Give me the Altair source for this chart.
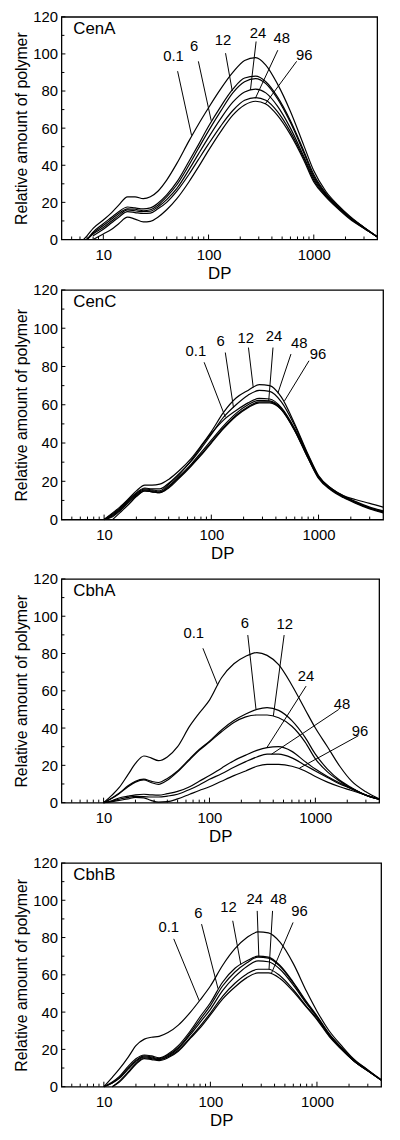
import altair as alt
import pandas as pd

FONT = "Liberation Sans"

# Degree of polymerisation grid shared by all curves
DP = [6.5, 7, 8, 10, 12, 14, 17, 20, 24, 28, 33, 40, 50, 65, 80, 100, 130, 170,
      220, 280, 350, 450, 600, 800, 1000, 1300, 1700, 2200, 3000, 4000]
TIMES = ["0.1", "6", "12", "24", "48", "96"]
PANELS = ["CenA", "CenC", "CbhA", "CbhB"]

# ---- CenA ----
CENA_0_1 = [0, 2, 6, 10.5, 14.5, 18.5, 23, 23, 22, 23, 26, 32, 41, 53, 62, 71, 81, 90, 96.5, 98, 94, 84, 69, 51, 37, 26, 18.5, 12.5, 6.5, 1.5]
CENA_6 = [None, 0, 4, 8.5, 12, 15, 17.5, 17, 16.5, 17, 19.5, 24, 31, 42, 51, 61, 71.5, 81, 87, 88, 85, 77, 64, 48, 35, 25, 18, 12, 6.5, 1.5]
CENA_12 = [None, 0, 3.5, 7.5, 11, 14, 16.5, 16.3, 15.5, 16, 18.5, 23, 29.5, 40, 49, 58.5, 69, 79, 85, 86.7, 84, 76, 63, 47, 34, 24.5, 17.5, 12, 6.5, 1.5]
CENA_24 = [None, 0, 3, 6.5, 10, 13, 16, 15.5, 15, 15.2, 17.5, 21.5, 27.5, 37.5, 46, 55, 65, 74, 79.5, 81, 79, 72, 60, 45, 33, 24, 17, 11.5, 6, 1.5]
CENA_48 = [None, None, 2, 5.5, 9, 12, 15, 14.5, 14, 14.2, 16.5, 20, 26, 35, 43, 51.5, 61, 69.5, 75, 76.4, 75, 69, 58, 44, 32, 23.5, 17, 11.5, 6, 1.5]
CENA_96 = [None, None, 0, 3, 5.5, 8.5, 12, 11, 9.5, 9.8, 12, 16, 22, 31, 39, 48, 58, 67, 72.5, 74.5, 73, 67, 56.5, 43, 31, 23, 16.5, 11, 6, 1.5]

# ---- CenC ----
CENC_0_1 = [None, None, None, 0, 2.5, 5.5, 10, 13.5, 16, 15.5, 15, 18.5, 23.5, 31, 38, 45, 52, 57, 61, 63.3, 63, 58.5, 47.5, 33, 22.5, 16.5, 12.5, 10.5, 8.5, 6.5]
CENC_6 = [None, None, None, 0, 3, 6, 10.5, 14, 16.5, 16, 16, 19, 24, 30.5, 37, 44.5, 53.5, 60, 65, 67.5, 67, 61.5, 49, 33.5, 22.5, 16, 12, 9, 6, 4]
CENC_12 = [None, None, None, 0, 3.5, 6.5, 11, 15, 18, 18, 18.5, 21, 25.5, 32, 38.5, 46, 56, 63.5, 67.5, 70.5, 70, 64, 50, 34, 23, 16.5, 12.5, 9.5, 6.5, 4.5]
CENC_24 = [None, None, None, 0, 2, 5, 9.5, 13, 15.5, 15, 14.5, 17.5, 22.5, 29, 35, 41.5, 49, 55.5, 60, 62.3, 62, 58, 47, 32.5, 22, 16, 12, 9, 6, 4]
CENC_48 = [None, None, None, 0, 1.5, 4.5, 9, 12.5, 15, 14.5, 14, 17, 22, 28.5, 34, 40.5, 48, 54.5, 59, 61.5, 61.5, 57.5, 46.5, 32, 22, 16, 12, 9, 6, 4]
CENC_96 = [None, None, None, None, 0, 3.5, 8, 12, 15, 14.5, 14, 16.5, 21.5, 28, 33.5, 40, 47.5, 54, 58.5, 61, 61, 57.5, 46.5, 32, 21.5, 15.5, 11.5, 8.5, 5.5, 3.5]

# ---- CbhA ----
CBHA_0_1 = [None, None, None, 0, 4, 8, 15, 21, 25, 24, 22.5, 24.5, 30, 41, 48, 55, 67, 74.5, 78.5, 80.5, 79, 74, 63, 50, 40, 30, 19.5, 11.5, 5.8, 2]
CBHA_6 = [None, None, None, 0, 2.5, 5, 9, 11.5, 12.6, 11.5, 10.8, 13, 17, 23.5, 28.5, 33, 39, 44, 47.5, 50, 51, 49.5, 44, 35, 26, 18, 12, 8, 4, 1.8]
CBHA_12 = [None, None, None, 0, 2.3, 4.8, 8.5, 11, 12.2, 10.8, 9.8, 12, 16.5, 23, 28, 32.5, 38, 43, 46, 47, 47, 45.5, 41, 32.5, 23.5, 16.5, 11.5, 7.5, 4, 1.8]
CBHA_24 = [None, None, None, 0, 1, 2.5, 3.5, 4.2, 4.5, 4.2, 4, 4.8, 6, 8.5, 11.5, 14.5, 18.5, 22.5, 25.5, 28, 29.5, 30, 27.5, 22, 18, 14, 10.5, 7.5, 4, 1.8]
CBHA_48 = [None, None, None, 0, 0.8, 1.8, 2.8, 3.3, 3.2, 3, 3, 3.5, 4.5, 7, 9.5, 12.5, 15.5, 19, 22, 24.5, 26, 26, 24, 20, 17, 13.5, 10, 7.5, 4, 1.8]
CBHA_96 = [None, None, None, 0, 0.5, 1.2, 2, 2.8, 2.5, 1.2, 0.3, 0.5, 2, 4.5, 6.5, 8.5, 11.5, 14.5, 17, 19.5, 20.5, 20.5, 19.5, 17, 14, 11, 8.5, 6.5, 4, 1.8]

# ---- CbhB ----
CBHB_0_1 = [None, None, None, 0, 5, 9.5, 16, 22, 25.5, 26.5, 27, 29, 33, 40, 46.5, 54, 65, 74, 80, 83, 82.5, 77.5, 66, 51, 40.5, 30, 22, 15, 9, 3.8]
CBHB_6 = [None, None, None, 0, 2, 4.5, 9.5, 13.5, 16, 15.5, 14.5, 16.5, 20.5, 28, 34.5, 41.5, 51.5, 59, 64.5, 67.5, 67, 63, 54.5, 44.5, 37.5, 28, 20.5, 14, 8.5, 3.5]
CBHB_12 = [None, None, None, 0, 2.5, 5.5, 11, 15, 17, 16.5, 15.5, 17.5, 22, 30, 37.5, 45, 56, 63.5, 67.5, 70, 69.5, 65, 56, 45.5, 38, 28.5, 21, 14.5, 9, 3.5]
CBHB_24 = [None, None, None, 0, 2, 5, 10, 14, 16.5, 16, 15, 17, 21, 29, 36, 43.5, 54, 61.5, 66.5, 69.5, 69, 64.5, 55.5, 45, 37.5, 28, 20.5, 14, 8.5, 3.5]
CBHB_48 = [None, None, None, None, 0, 3, 8, 12.5, 15.5, 15, 14.5, 16, 19.5, 26.5, 32.5, 39.5, 48.5, 55.5, 60.5, 63, 63, 59.5, 52, 43, 36.5, 27.5, 20, 14, 8.5, 3.5]
CBHB_96 = [None, None, None, None, 0, 2.5, 7.5, 12, 15, 14.5, 14, 15.5, 19, 26, 31.5, 38.5, 47, 53.5, 58.5, 61, 61, 58, 51, 42.5, 36, 27, 20, 14, 8.5, 3.5]

# ---- curve labels (text position) and leader lines ----
CENA_LAB_X = [46.4, 73, 137, 295, 496, 811]
CENA_LAB_Y = [98.7, 104, 107.5, 111, 108.4, 99.6]
CENA_LEAD_X1 = [50.8, 80, 145, 283, 455, 687]
CENA_LEAD_Y1 = [90.7, 96, 100.4, 106.7, 102, 96]
CENA_LEAD_X2 = [69, 106, 168, 250, 278, 345]
CENA_LEAD_Y2 = [56, 64, 80, 80.5, 76, 73]

CENC_LAB_X = [71.8, 122, 209, 384, 661, 986]
CENC_LAB_Y = [88.2, 93.3, 95, 95.9, 92.5, 86.5]
CENC_LEAD_X1 = [85.7, 135, 222, 376, 553, 815]
CENC_LEAD_Y1 = [82.2, 87.3, 89.9, 89.9, 86.5, 83]
CENC_LEAD_X2 = [135, 161, 246, 343, 417, 481]
CENC_LEAD_Y2 = [53.5, 58.5, 69, 62, 66, 62]

CBHA_LAB_X = [71, 216, 514, 817, 1786, 2642]
CBHA_LAB_Y = [90.8, 96.5, 96, 68.1, 52.7, 38.6]
CBHA_LEAD_X1 = [86.7, 230, 507, 817, 1664, 2549]
CBHA_LEAD_Y1 = [82.8, 89.9, 89.9, 62.5, 50, 35.9]
CBHA_LEAD_X2 = [119.5, 275, 401, 348, 386, 708]
CBHA_LEAD_Y2 = [63, 50, 46.5, 29.5, 26, 18.5]

CBHB_LAB_X = [40.7, 77, 148, 261, 435, 687]
CBHB_LAB_Y = [85.5, 93.4, 96.1, 100.5, 100.5, 94.3]
CBHB_LEAD_X1 = [45.3, 82.6, 162, 275, 383, 597]
CBHB_LEAD_Y1 = [79.3, 87.2, 89, 94.3, 94.3, 88.1]
CBHB_LEAD_X2 = [78.7, 118, 193, 285, 355, 375]
CBHB_LEAD_Y2 = [46, 52.5, 65.5, 69.5, 63, 61]

# ---- axes ----
X_LABELS = [10, 100, 1000]
X_MINOR = [5, 6, 7, 8, 9, 20, 30, 40, 50, 60, 70, 80, 90,
           200, 300, 400, 500, 600, 700, 800, 900, 2000, 3000]
Y_LABELS = [0, 20, 40, 60, 80, 100, 120]
Y_MINOR = [10, 30, 50, 70, 90, 110]

SERIES = {
    "CenA": [CENA_0_1, CENA_6, CENA_12, CENA_24, CENA_48, CENA_96],
    "CenC": [CENC_0_1, CENC_6, CENC_12, CENC_24, CENC_48, CENC_96],
    "CbhA": [CBHA_0_1, CBHA_6, CBHA_12, CBHA_24, CBHA_48, CBHA_96],
    "CbhB": [CBHB_0_1, CBHB_6, CBHB_12, CBHB_24, CBHB_48, CBHB_96],
}
LABELS = {
    "CenA": (CENA_LAB_X, CENA_LAB_Y, CENA_LEAD_X1, CENA_LEAD_Y1, CENA_LEAD_X2, CENA_LEAD_Y2),
    "CenC": (CENC_LAB_X, CENC_LAB_Y, CENC_LEAD_X1, CENC_LEAD_Y1, CENC_LEAD_X2, CENC_LEAD_Y2),
    "CbhA": (CBHA_LAB_X, CBHA_LAB_Y, CBHA_LEAD_X1, CBHA_LEAD_Y1, CBHA_LEAD_X2, CBHA_LEAD_Y2),
    "CbhB": (CBHB_LAB_X, CBHB_LAB_Y, CBHB_LEAD_X1, CBHB_LEAD_Y1, CBHB_LEAD_X2, CBHB_LEAD_Y2),
}
SIZES = {"CenA": (319, 225), "CenC": (325, 232), "CbhA": (321, 226), "CbhB": (323, 226)}

XSCALE = alt.Scale(type="log", domain=[4, 4000], nice=False)
YSCALE = alt.Scale(domain=[0, 120], nice=False, zero=False)
XAXIS = alt.Axis(values=X_LABELS, format="d", title="DP", grid=False, ticks=False,
                 domain=False, labelPadding=8, titlePadding=3,
                 labelFont=FONT, titleFont=FONT, labelFontSize=15, titleFontSize=17,
                 labelColor="black", titleColor="black", titleFontWeight="normal")
YAXIS = alt.Axis(values=Y_LABELS, title="Relative amount of polymer", grid=False,
                 ticks=False, domain=False, labelPadding=4, titlePadding=3,
                 labelFont=FONT, titleFont=FONT, labelFontSize=15, titleFontSize=16,
                 labelColor="black", titleColor="black", titleFontWeight="normal")


def xe(field):
    return alt.X(f"{field}:Q", scale=XSCALE, axis=XAXIS)


def ye(field):
    return alt.Y(f"{field}:Q", scale=YSCALE, axis=YAXIS)


def panel(name):
    w, h = SIZES[name]
    rows = []
    for t, vals in zip(TIMES, SERIES[name]):
        for d, v in zip(DP, vals):
            if v is not None:
                rows.append({"dp": d, "val": v, "time": t})
    curves = pd.DataFrame(rows)
    lx, ly, x1, y1, x2, y2 = LABELS[name]
    labs = pd.DataFrame({"t": TIMES, "lx": lx, "ly": ly})
    leads = pd.DataFrame({"t": TIMES, "x1": x1, "y1": y1, "x2": x2, "y2": y2})

    lines = alt.Chart(curves).mark_line(color="black", strokeWidth=1.2, interpolate="monotone").encode(
        x=xe("dp"), y=ye("val"), detail="time:N")
    leaders = alt.Chart(leads).mark_rule(color="black", strokeWidth=1).encode(
        x=xe("x1"), y=ye("y1"), x2="x2:Q", y2="y2:Q")
    texts = alt.Chart(labs).mark_text(font=FONT, fontSize=15, color="black",
                                      align="center", baseline="middle").encode(
        x=xe("lx"), y=ye("ly"), text="t:N")
    title = alt.Chart(pd.DataFrame({"name": [name]})).mark_text(
        font=FONT, fontSize=17, color="black", align="left", baseline="middle").encode(
        x=alt.value(12), y=alt.value(12), text="name:N")
    xmaj = alt.Chart(pd.DataFrame({"v": X_LABELS})).mark_rule(color="black").encode(
        x=xe("v"), y=alt.value(h), y2=alt.value(h - 5))
    xmin = alt.Chart(pd.DataFrame({"v": X_MINOR})).mark_rule(color="black").encode(
        x=xe("v"), y=alt.value(h), y2=alt.value(h - 3))
    ymaj = alt.Chart(pd.DataFrame({"v": Y_LABELS})).mark_rule(color="black").encode(
        y=ye("v"), x=alt.value(0), x2=alt.value(4))
    ymin = alt.Chart(pd.DataFrame({"v": Y_MINOR})).mark_rule(color="black").encode(
        y=ye("v"), x=alt.value(0), x2=alt.value(3))
    return alt.layer(lines, leaders, texts, title, xmaj, xmin, ymaj, ymin).properties(width=w, height=h)


P = [panel(p) for p in PANELS]
top_pair = alt.vconcat(P[0], P[1], spacing=0)
bottom_pair = alt.vconcat(P[2], P[3], spacing=10)
chart = alt.vconcat(top_pair, bottom_pair, spacing=9).properties(
    background="white",
    padding={"left": 5, "top": -5, "right": 5, "bottom": 5},
).configure_view(
    stroke="black", strokeWidth=1.3
).configure_axis(
    labelFont=FONT, titleFont=FONT, labelFontSize=15, titleFontSize=16,
    labelColor="black", titleColor="black", titleFontWeight="normal"
)

chart.save("out.html", embed_options={"renderer": "svg", "actions": False})
